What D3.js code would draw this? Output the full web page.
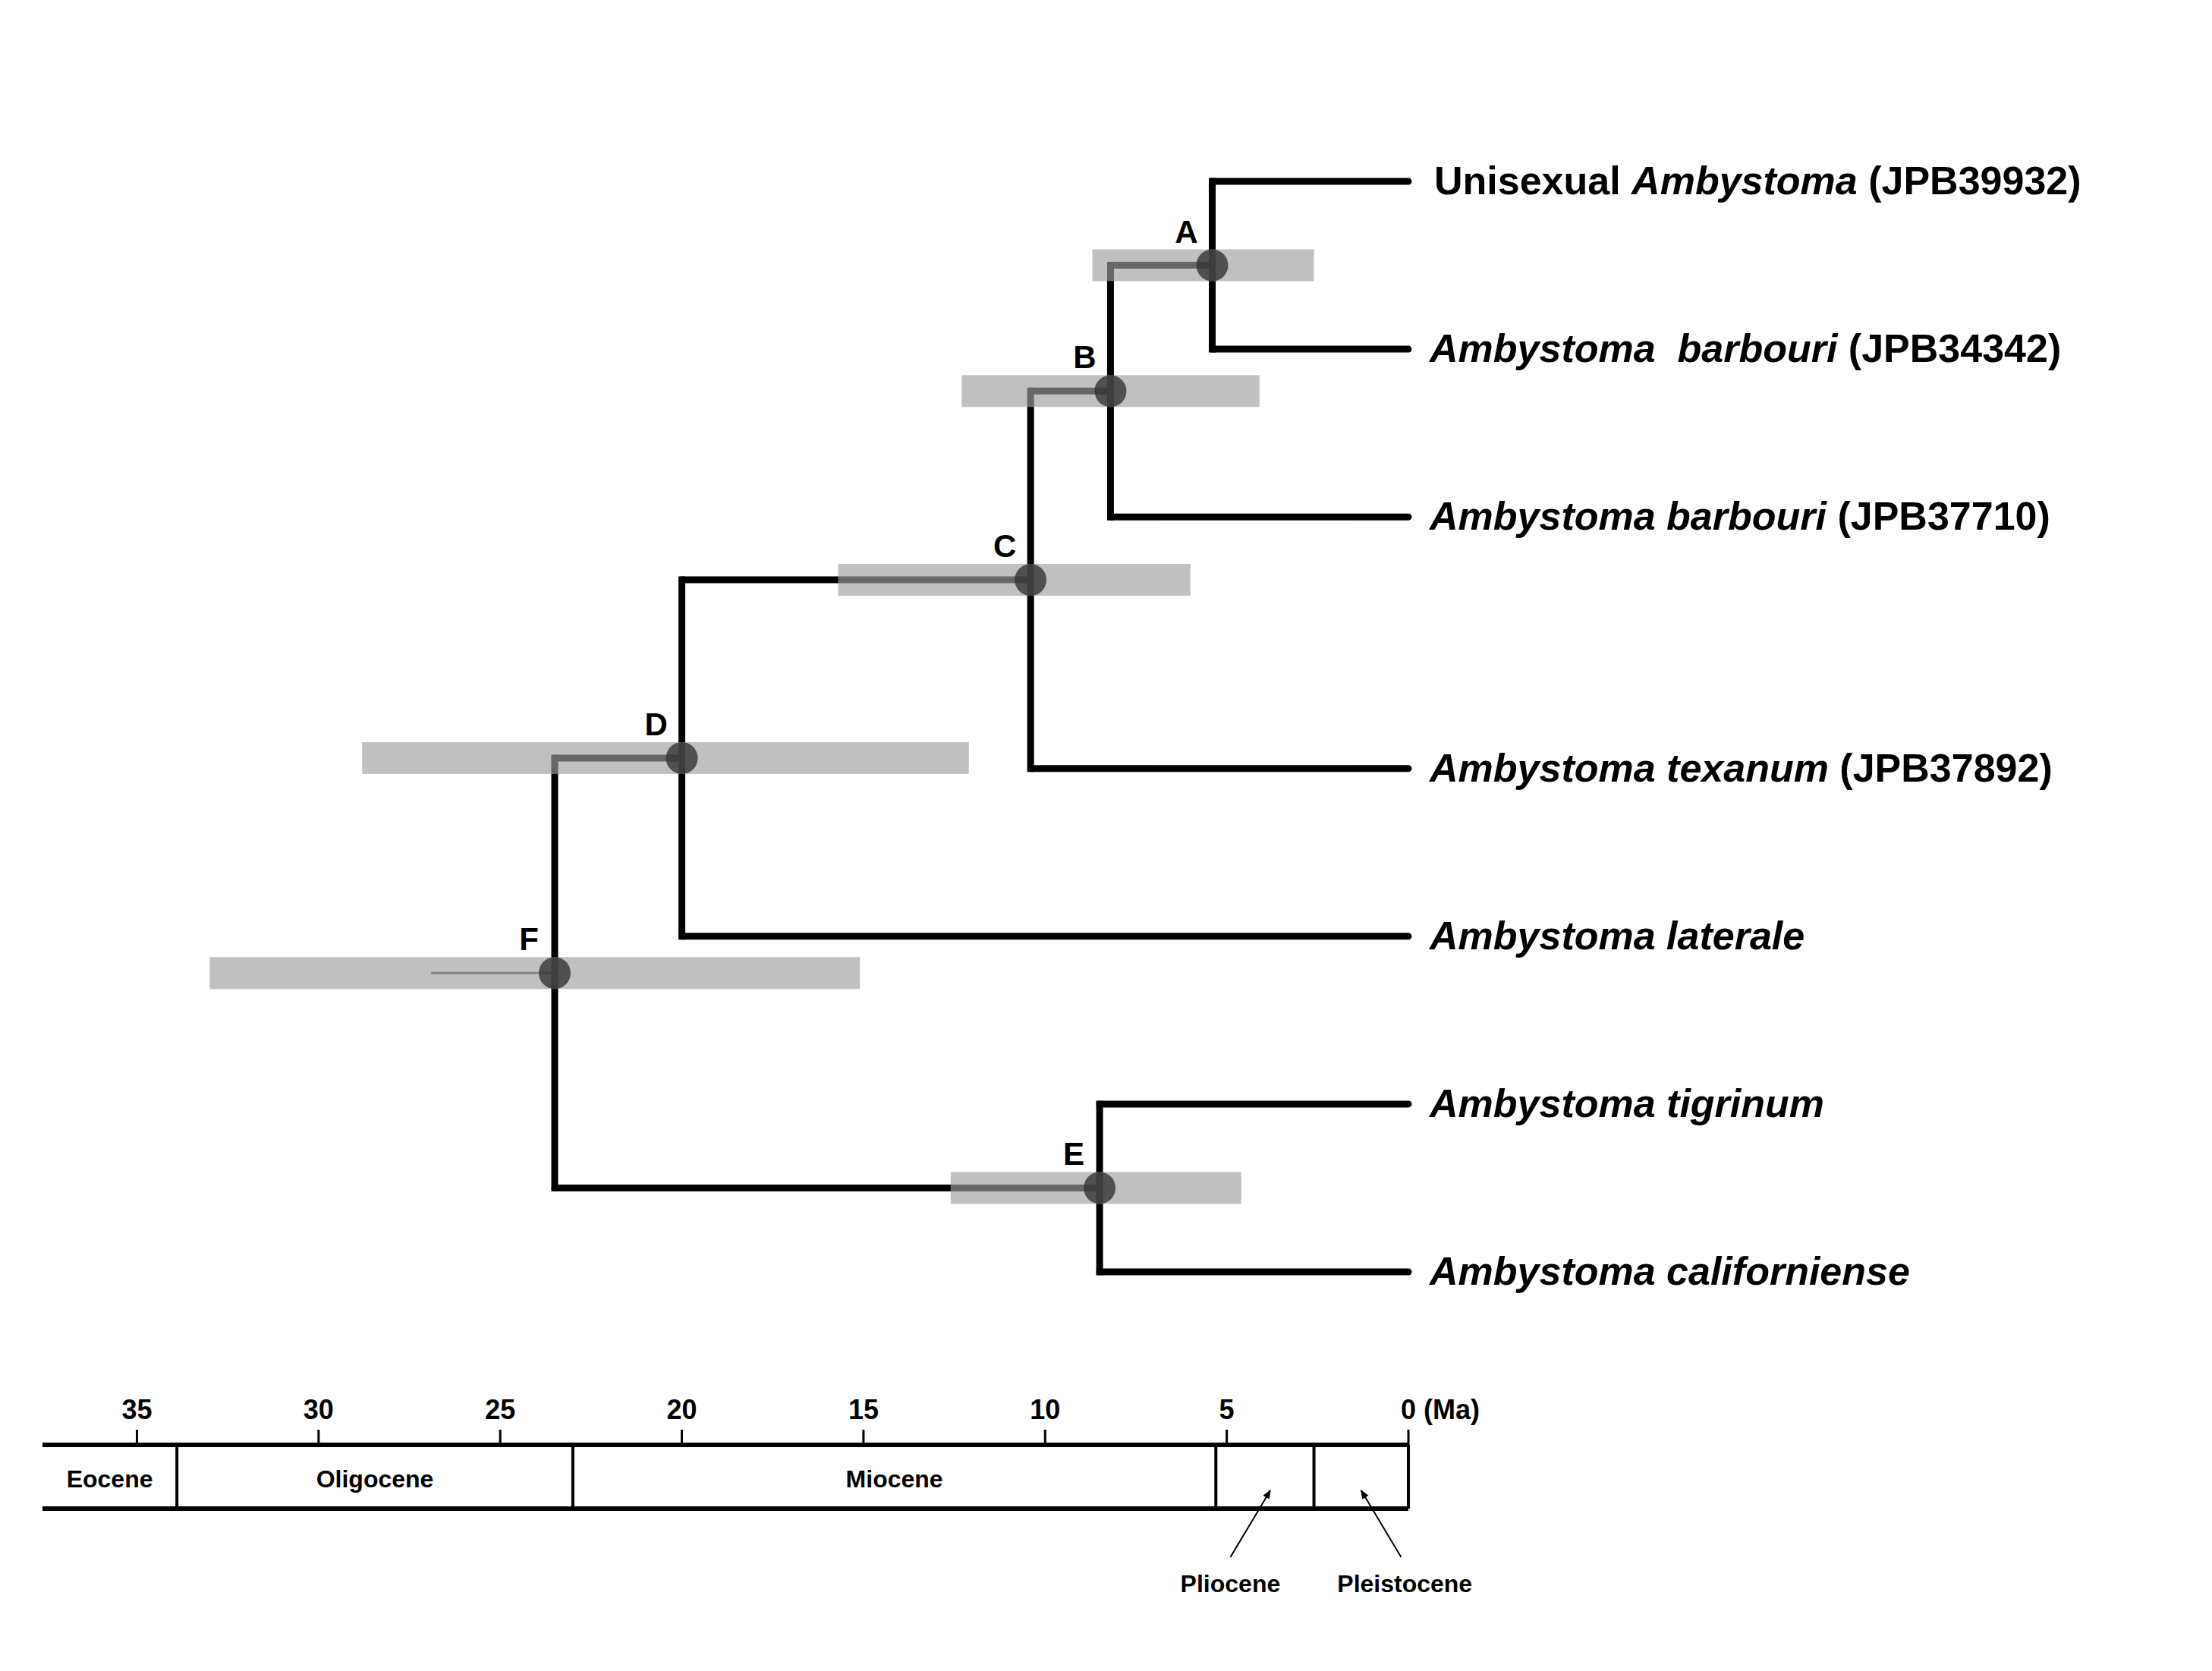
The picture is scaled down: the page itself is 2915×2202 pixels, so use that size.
<!DOCTYPE html>
<html><head><meta charset="utf-8">
<script src="https://cdn.jsdelivr.net/npm/d3@7"></script>
<style>body{margin:0;background:#fff}</style>
</head><body>
<svg id="chart" width="2915" height="2202"></svg>
<script>
// tips: name parts (italic flag), row
const tips = [
  {id: "uni", row: 0, parts: [["Unisexual ", false], ["Ambystoma", true], [" (JPB39932)", false]]},
  {id: "bar1", row: 1, parts: [["Ambystoma  barbouri", true], [" (JPB34342)", false]]},
  {id: "bar2", row: 2, parts: [["Ambystoma barbouri", true], [" (JPB37710)", false]]},
  {id: "tex", row: 3.5, parts: [["Ambystoma texanum", true], [" (JPB37892)", false]]},
  {id: "lat", row: 4.5, parts: [["Ambystoma laterale", true]]},
  {id: "tig", row: 5.5, parts: [["Ambystoma tigrinum", true]]},
  {id: "cal", row: 6.5, parts: [["Ambystoma californiense", true]]}
];
// nodes: label, age (Ma), children, HPD interval
const nodes = [
  {id: "A", age: 5.4, kids: ["uni", "bar1"], hpd: [8.7, 2.6]},
  {id: "B", age: 8.2, kids: ["A", "bar2"], hpd: [12.3, 4.1]},
  {id: "C", age: 10.4, kids: ["B", "tex"], hpd: [15.7, 6.0]},
  {id: "D", age: 20.0, kids: ["C", "lat"], hpd: [28.8, 12.1]},
  {id: "E", age: 8.5, kids: ["tig", "cal"], hpd: [12.6, 4.6]},
  {id: "F", age: 23.5, kids: ["D", "E"], hpd: [33.0, 15.1]}
];
const stemF = 26.9;
const ticks = [35, 30, 25, 20, 15, 10, 5, 0];
const epochBounds = [37.6, 33.9, 23.0, 5.3, 2.6, 0];
const epochNames = ["Eocene", "Oligocene", "Miocene"];

const svg = d3.select("#chart");
const x = d3.scaleLinear().domain([37.6, 0]).range([56, 1856]);
const y = d3.scaleLinear().domain([0, 6.5]).range([239, 1676]);

const pos = {};
tips.forEach(t => pos[t.id] = {age: 0, row: t.row});
nodes.forEach(n => {
  const r = n.kids.map(k => pos[k].row);
  pos[n.id] = {age: n.age, row: (r[0] + r[1]) / 2};
});

const g = svg.append("g");
// branches
nodes.forEach(n => {
  const p = pos[n.id];
  const r = n.kids.map(k => pos[k].row);
  g.append("line").attr("x1", x(p.age)).attr("x2", x(p.age))
    .attr("y1", y(r[0])).attr("y2", y(r[1]))
    .attr("stroke", "#000").attr("stroke-width", 9).attr("stroke-linecap", "square");
  n.kids.forEach(k => {
    g.append("line").attr("x1", x(p.age)).attr("x2", x(pos[k].age))
      .attr("y1", y(pos[k].row)).attr("y2", y(pos[k].row))
      .attr("stroke", "#000").attr("stroke-width", 9).attr("stroke-linecap", "round");
  });
});
// stem of F
g.append("line").attr("x1", x(stemF)).attr("x2", x(23.5))
  .attr("y1", y(pos.F.row)).attr("y2", y(pos.F.row))
  .attr("stroke", "#555").attr("stroke-width", 3);

// HPD bars
nodes.forEach(n => {
  g.append("rect").attr("x", x(n.hpd[0])).attr("width", x(n.hpd[1]) - x(n.hpd[0]))
    .attr("y", y(pos[n.id].row) - 21).attr("height", 42)
    .attr("fill", "#9e9e9e").attr("opacity", 0.65);
});
// node circles + labels
nodes.forEach(n => {
  const p = pos[n.id];
  g.append("circle").attr("cx", x(p.age)).attr("cy", y(p.row)).attr("r", 21)
    .attr("fill", "#333").attr("opacity", 0.8);
  g.append("text").attr("x", x(p.age) - 34).attr("y", y(p.row) - 30)
    .attr("text-anchor", "middle").attr("font-family", "Liberation Sans, Arial")
    .attr("font-weight", "bold").attr("font-size", 42).text(n.id);
});
// tip labels
tips.forEach(t => {
  const tx = g.append("text").attr("x", x(0) + (t.id === "uni" ? 34 : 28)).attr("y", y(t.row) + 17)
    .attr("font-family", "Liberation Sans, Arial").attr("font-weight", "bold").attr("font-size", 52)
    .style("white-space", "pre");
  t.parts.forEach(([s, it]) => tx.append("tspan").attr("font-style", it ? "italic" : "normal").text(s));
});

// time axis
const axTop = 1904, axBot = 1988;
const ax = svg.append("g").attr("font-family", "Liberation Sans, Arial").attr("font-weight", "bold");
[axTop, axBot].forEach(yy => ax.append("line").attr("x1", x(37.6)).attr("x2", x(0))
  .attr("y1", yy).attr("y2", yy).attr("stroke", "#000").attr("stroke-width", 6));
ticks.forEach(t => {
  ax.append("line").attr("x1", x(t)).attr("x2", x(t)).attr("y1", axTop - 20).attr("y2", axTop)
    .attr("stroke", "#000").attr("stroke-width", 3);
  ax.append("text").attr("x", x(t)).attr("y", axTop - 34).attr("text-anchor", "middle")
    .attr("font-size", 36).text(t);
});
ax.append("text").attr("x", x(0) + 20).attr("y", axTop - 34).attr("font-size", 36).text("(Ma)");
epochBounds.slice(1).forEach(b => ax.append("line").attr("x1", x(b)).attr("x2", x(b))
  .attr("y1", axTop).attr("y2", axBot).attr("stroke", "#000").attr("stroke-width", 4));
epochNames.forEach((nm, i) => ax.append("text")
  .attr("x", (x(epochBounds[i]) + x(epochBounds[i + 1])) / 2).attr("y", 1960)
  .attr("text-anchor", "middle").attr("font-size", 32).text(nm));
// Pliocene / Pleistocene callouts
svg.append("defs").append("marker").attr("id", "ah").attr("viewBox", "0 0 10 10")
  .attr("refX", 9).attr("refY", 5).attr("markerWidth", 6).attr("markerHeight", 6)
  .attr("orient", "auto").append("path").attr("d", "M0,1L10,5L0,9z").attr("fill", "#000");
[["Pliocene", 4.9, 3.8, 4.9], ["Pleistocene", 0.1, 1.3, 0.2]].forEach(([nm, lx, ax2, tx]) => {
  ax.append("line").attr("x1", x(tx)).attr("y1", 2052).attr("x2", x(ax2)).attr("y2", 1964)
    .attr("stroke", "#000").attr("stroke-width", 2).attr("marker-end", "url(#ah)");
  ax.append("text").attr("x", x(lx)).attr("y", 2098).attr("text-anchor", "middle")
    .attr("font-size", 32).text(nm);
});
</script>
</body></html>
